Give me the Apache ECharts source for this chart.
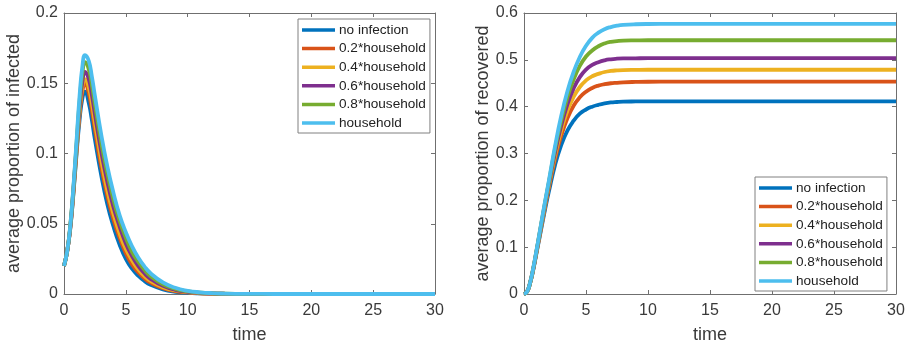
<!DOCTYPE html>
<html>
<head>
<meta charset="utf-8">
<script src="https://cdn.jsdelivr.net/npm/echarts@6/dist/echarts.min.js"></script>
<style>html,body{margin:0;padding:0;background:#fff}#c{width:909px;height:349px}</style>
</head>
<body>
<div id="c"></div>
<script>
// ---- data ----
const seriesNames = ['no infection','0.2*household','0.4*household','0.6*household','0.8*household','household'];
const colors = ['#0072BD','#D95319','#EDB120','#7E2F8E','#77AC30','#4DBEEE'];
const xTicks = [0,5,10,15,20,25,30];
const yTicksInf = [0,0.05,0.1,0.15,0.2];
const yTicksRec = [0,0.1,0.2,0.3,0.4,0.5,0.6];

// infected
const tI = [0,0.25,0.5,0.75,1,1.25,1.5,1.7,2,2.25,2.5,3,3.5,4,4.5,5,5.5,6,6.5,7,8,9,10,11,12,13,14,16,18,20,25,30];
const infNo  = [0.020,0.030,0.046,0.070,0.098,0.123,0.140,0.144,0.136,0.124,0.110,0.085,0.064,0.048,0.035,0.025,0.018,0.013,0.0093,0.0066,0.0033,0.0016,0.0008,0.0004,0.0002,0.0001,0.00005,0,0,0,0,0];
const inf02  = [0.020,0.030,0.046,0.071,0.100,0.127,0.145,0.150,0.143,0.131,0.117,0.091,0.070,0.053,0.040,0.029,0.021,0.0155,0.0112,0.0081,0.0042,0.0021,0.0011,0.00055,0.00028,0.00014,0.00007,0.00002,0,0,0,0];
const inf04  = [0.020,0.030,0.047,0.072,0.101,0.129,0.148,0.153,0.147,0.136,0.122,0.096,0.074,0.057,0.043,0.032,0.024,0.0175,0.0128,0.0093,0.0049,0.0025,0.0013,0.00066,0.00034,0.00017,0.00009,0.00002,0,0,0,0];
const inf06  = [0.020,0.030,0.047,0.073,0.103,0.132,0.152,0.158,0.153,0.142,0.128,0.102,0.080,0.062,0.048,0.036,0.027,0.020,0.0148,0.0108,0.0058,0.0030,0.0016,0.0008,0.0004,0.0002,0.0001,0.00003,0,0,0,0];
const inf08  = [0.020,0.030,0.048,0.074,0.105,0.136,0.158,0.165,0.160,0.149,0.135,0.108,0.086,0.067,0.052,0.040,0.030,0.023,0.0172,0.0127,0.0069,0.0036,0.0019,0.0010,0.0005,0.00025,0.00013,0.00003,0,0,0,0];
const infHH  = [0.020,0.030,0.048,0.075,0.107,0.140,0.163,0.170,0.166,0.155,0.141,0.114,0.091,0.072,0.056,0.044,0.034,0.026,0.0197,0.0148,0.0082,0.0044,0.0023,0.0012,0.0006,0.0003,0.00015,0.00004,0,0,0,0];

// recovered
const tR = [0,0.25,0.5,0.75,1,1.25,1.5,1.75,2,2.5,3,3.5,4,4.5,5,5.5,6,6.5,7,7.5,8,9,10,12,15,20,25,30];
const recNo = [0,0.005,0.024,0.052,0.086,0.120,0.154,0.187,0.218,0.275,0.318,0.349,0.370,0.385,0.394,0.400,0.404,0.407,0.409,0.410,0.4107,0.4112,0.4115,0.4115,0.4115,0.4115,0.4115,0.4115];
const rec02 = [0,0.005,0.024,0.053,0.088,0.123,0.158,0.193,0.226,0.288,0.338,0.375,0.402,0.420,0.432,0.440,0.445,0.448,0.450,0.451,0.452,0.4528,0.4532,0.4533,0.4533,0.4533,0.4533,0.4533];
const rec04 = [0,0.005,0.024,0.054,0.089,0.125,0.161,0.197,0.231,0.295,0.349,0.391,0.421,0.442,0.456,0.465,0.470,0.474,0.4763,0.4775,0.4782,0.4786,0.4788,0.4788,0.4788,0.4788,0.4788,0.4788];
const rec06 = [0,0.005,0.025,0.054,0.090,0.127,0.164,0.200,0.235,0.302,0.359,0.405,0.439,0.463,0.479,0.489,0.495,0.499,0.5012,0.5024,0.5030,0.5033,0.5035,0.5035,0.5035,0.5035,0.5035,0.5035];
const rec08 = [0,0.005,0.025,0.055,0.091,0.129,0.166,0.203,0.238,0.310,0.370,0.420,0.458,0.487,0.507,0.520,0.529,0.535,0.5385,0.5400,0.5410,0.5415,0.5418,0.5418,0.5418,0.5418,0.5418,0.5418];
const recHH = [0,0.005,0.025,0.056,0.092,0.130,0.168,0.205,0.241,0.315,0.380,0.433,0.474,0.506,0.530,0.547,0.558,0.5655,0.5700,0.5728,0.5745,0.5760,0.5765,0.5766,0.5766,0.5766,0.5766,0.5766];

const infSets = [infNo,inf02,inf04,inf06,inf08,infHH];
const recSets = [recNo,rec02,rec04,rec06,rec08,recHH];

// ---- chart ----
const FONT = '"Liberation Sans", Arial, Helvetica, sans-serif';
const AX = '#6f6f6f';
const LBL = '#3a3a3a';

function xAxisPair(gi){
  const base = {type:'value', gridIndex:gi, min:xTicks[0], max:xTicks[xTicks.length-1], interval:5,
    axisLine:{show:true, onZero:false, lineStyle:{color:AX, width:1}},
    axisTick:{show:true, inside:true, length:4, lineStyle:{color:AX}},
    splitLine:{show:false}};
  return [
    Object.assign({}, base, {position:'bottom', name:'time', nameLocation:'middle', nameGap:32,
      nameTextStyle:{fontFamily:FONT, fontSize:18, color:LBL},
      axisLabel:{fontFamily:FONT, fontSize:16, color:LBL, margin:9}}),
    Object.assign({}, base, {position:'top', axisLabel:{show:false}})
  ];
}
function yAxisPair(gi, ticks, name, gap){
  const base = {type:'value', gridIndex:gi, min:ticks[0], max:ticks[ticks.length-1], interval:ticks[1]-ticks[0],
    axisLine:{show:true, onZero:false, lineStyle:{color:AX, width:1}},
    axisTick:{show:true, inside:true, length:4, lineStyle:{color:AX}},
    splitLine:{show:false}};
  return [
    Object.assign({}, base, {position:'left', name:name, nameLocation:'middle', nameGap:gap,
      nameTextStyle:{fontFamily:FONT, fontSize:18, color:LBL},
      axisLabel:{fontFamily:FONT, fontSize:16, color:LBL, margin:6}}),
    Object.assign({}, base, {position:'right', axisLabel:{show:false}})
  ];
}

const series = [];
seriesNames.forEach((n,k)=>{
  series.push({name:n, type:'line', xAxisIndex:0, yAxisIndex:0, symbol:'none', showSymbol:false, smooth:0.5, clip:false,
    lineStyle:{width:3.8, color:colors[k]}, itemStyle:{color:colors[k]}, z:2+k,
    data:tI.map((t,i)=>[t, infSets[k][i]])});
});
seriesNames.forEach((n,k)=>{
  series.push({name:n, type:'line', xAxisIndex:2, yAxisIndex:2, symbol:'none', showSymbol:false, smooth:0.5, clip:false,
    lineStyle:{width:3.8, color:colors[k]}, itemStyle:{color:colors[k]}, z:2+k,
    data:tR.map((t,i)=>[t, recSets[k][i]])});
});

const legendBase = {orient:'vertical', icon:'rect', itemWidth:33, itemHeight:3.5, itemGap:4.6,
  padding:[4,4,3,4], borderColor:'#808080', borderWidth:1, backgroundColor:'#fff',
  textStyle:{fontFamily:FONT, fontSize:13.6, lineHeight:14, color:'#222', padding:[0,0,0,-1]},
  data:seriesNames.map((n,k)=>({name:n, itemStyle:{color:colors[k]}})), selectedMode:false};

const chart = echarts.init(document.getElementById('c'), null, {renderer:'canvas'});
chart.setOption({
  animation:false,
  backgroundColor:'#fff',
  grid:[
    {left:64, top:13, width:371, height:283},
    {left:524, top:13, width:372, height:283}
  ],
  xAxis:[...xAxisPair(0), ...xAxisPair(1)],
  yAxis:[...yAxisPair(0, yTicksInf, 'average proportion of infected', 41), ...yAxisPair(1, yTicksRec, 'average proportion of recovered', 32)],
  legend:[
    Object.assign({}, legendBase, {left:298, top:19}),
    Object.assign({}, legendBase, {left:755, top:177})
  ],
  series:series
});
</script>
</body>
</html>
